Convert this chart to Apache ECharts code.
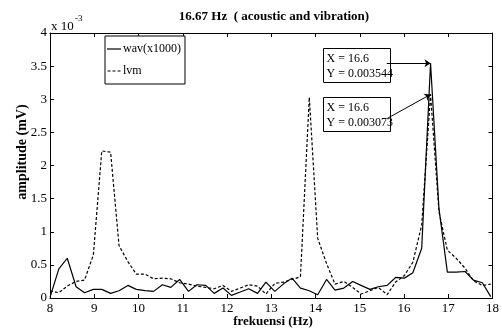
<!DOCTYPE html>
<html>
<head>
<meta charset="utf-8">
<script src="https://cdn.jsdelivr.net/npm/echarts@6/dist/echarts.min.js"></script>
<style>
html, body { margin: 0; padding: 0; background: #fff; }
#main { width: 502px; height: 329px; }
</style>
</head>
<body>
<div id="main"></div>
<script>
// frequency bins (Hz)
var freq = [
  8.00, 8.20, 8.39, 8.59, 8.78, 8.98, 9.17, 9.37, 9.56, 9.76,
  9.95, 10.15, 10.34, 10.54, 10.73, 10.93, 11.13, 11.32, 11.52, 11.71,
  11.91, 12.10, 12.30, 12.49, 12.69, 12.88, 13.08, 13.27, 13.47, 13.66,
  13.86, 14.05, 14.25, 14.44, 14.64, 14.84, 15.03, 15.23, 15.42, 15.62,
  15.81, 16.01, 16.20, 16.40, 16.60, 16.79, 16.98, 17.18, 17.38, 17.57,
  17.77, 17.96
];
// amplitude, x 10^-3 mV
var wav = [
  0.01, 0.44, 0.60, 0.17, 0.08, 0.13, 0.13, 0.07, 0.11, 0.19,
  0.13, 0.11, 0.10, 0.20, 0.16, 0.28, 0.10, 0.20, 0.19, 0.07,
  0.15, 0.04, 0.09, 0.14, 0.07, 0.24, 0.10, 0.21, 0.30, 0.15,
  0.11, 0.05, 0.28, 0.12, 0.15, 0.25, 0.19, 0.13, 0.17, 0.19,
  0.31, 0.30, 0.38, 0.75, 3.544, 1.35, 0.39, 0.39, 0.40, 0.27,
  0.23, 0.02
];
var lvm = [
  0.11, 0.08, 0.18, 0.25, 0.27, 0.65, 2.22, 2.20, 0.79, 0.55,
  0.36, 0.36, 0.29, 0.30, 0.29, 0.23, 0.21, 0.18, 0.16, 0.14,
  0.19, 0.10, 0.15, 0.20, 0.18, 0.06, 0.22, 0.24, 0.28, 0.32,
  3.03, 0.90, 0.52, 0.21, 0.25, 0.16, 0.06, 0.11, 0.16, 0.05,
  0.24, 0.34, 0.54, 1.10, 3.073, 1.30, 0.72, 0.60, 0.45, 0.26,
  0.19, 0.21
];
var seriesNames = ['wav(x1000)', 'lvm'];
// data tips: [x, y, label line 1, label line 2]
var tipWav = [16.6, 3.544, 'X = 16.6', 'Y = 0.003544'];
var tipLvm = [16.6, 3.073, 'X = 16.6', 'Y = 0.003073'];

var serif = 'Liberation Serif';
var chart = echarts.init(document.getElementById('main'));

function pairs(ys) {
  return freq.map(function (f, i) { return [f, ys[i]]; });
}

function xAx(pos, showLabel) {
  return {
    type: 'value', position: pos, min: 8, max: 18, interval: 1,
    axisLine: { show: true, onZero: false, lineStyle: { color: '#000', width: 1 } },
    axisTick: { show: true, inside: true, length: 4, lineStyle: { color: '#000' } },
    axisLabel: { show: showLabel, color: '#000', fontFamily: serif, fontSize: 13, margin: 4 },
    splitLine: { show: false }
  };
}
function yAx(pos, showLabel) {
  return {
    type: 'value', position: pos, min: 0, max: 4, interval: 0.5,
    axisLine: { show: true, onZero: false, lineStyle: { color: '#000', width: 1 } },
    axisTick: { show: true, inside: true, length: 4, lineStyle: { color: '#000' } },
    axisLabel: { show: showLabel, color: '#000', fontFamily: serif, fontSize: 13, margin: 3 },
    splitLine: { show: false }
  };
}

function tipBox(y, t) {
  return {
    type: 'group', left: 323, top: y,
    children: [
      { type: 'rect', shape: { x: 0, y: 0, width: 67, height: 34 },
        style: { fill: '#fff', stroke: '#000', lineWidth: 1 } },
      { type: 'text', x: 3, y: 10, style: { text: t[2], fill: '#000', fontFamily: serif, fontSize: 12, verticalAlign: 'middle', textVerticalAlign: 'middle' } },
      { type: 'text', x: 3, y: 25, style: { text: t[3], fill: '#000', fontFamily: serif, fontSize: 12, verticalAlign: 'middle', textVerticalAlign: 'middle' } }
    ]
  };
}

chart.setOption({
  animation: false,
  grid: { left: 50, right: 5, top: 33, bottom: 31 },
  legend: {
    orient: 'vertical', left: 105, top: 36,
    data: [
      { name: seriesNames[0], icon: 'path://M0,0H14V1.2H0Z' },
      { name: seriesNames[1], icon: 'path://M0,0H3V1.2H0Z M5,0H8V1.2H5Z M10,0H13V1.2H10Z' }
    ],
    itemWidth: 14, itemHeight: 1.2, itemGap: 8,
    padding: [6, 4, 6, 2],
    borderColor: '#000', borderWidth: 1, backgroundColor: '#fff',
    textStyle: { color: '#000', fontFamily: serif, fontSize: 12, lineHeight: 14, padding: [0, 0, 0, -3] }
  },
  xAxis: [xAx('bottom', true), xAx('top', false)],
  yAxis: [yAx('left', true), yAx('right', false)],
  graphic: [
    { type: 'text', x: 274, y: 17,
      style: { text: '16.67 Hz  ( acoustic and vibration)', fill: '#000', fontFamily: serif, fontWeight: 'bold', fontSize: 13,
        align: 'center', textAlign: 'center', verticalAlign: 'middle', textVerticalAlign: 'middle' } },
    { type: 'text', x: 51, y: 27,
      style: { text: 'x 10', fill: '#000', fontFamily: serif, fontSize: 13, verticalAlign: 'middle', textVerticalAlign: 'middle' } },
    { type: 'text', x: 75, y: 19,
      style: { text: '-3', fill: '#000', fontFamily: serif, fontSize: 9, verticalAlign: 'middle', textVerticalAlign: 'middle' } },
    { type: 'text', x: 22, y: 152, rotation: Math.PI / 2,
      style: { text: 'amplitude (mV)', fill: '#000', fontFamily: serif, fontWeight: 'bold', fontSize: 14,
        align: 'center', textAlign: 'center', verticalAlign: 'middle', textVerticalAlign: 'middle' } },
    { type: 'text', x: 273, y: 322,
      style: { text: 'frekuensi (Hz)', fill: '#000', fontFamily: serif, fontWeight: 'bold', fontSize: 13,
        align: 'center', textAlign: 'center', verticalAlign: 'middle', textVerticalAlign: 'middle' } },
    tipBox(48, tipWav),
    tipBox(97, tipLvm)
  ],
  series: [
    {
      name: seriesNames[0], type: 'line', data: pairs(wav),
      symbol: 'none', lineStyle: { color: '#000', width: 1.2 }, itemStyle: { color: '#000' },
      markLine: {
        silent: true, symbol: ['none', 'arrow'], symbolSize: 6,
        label: { show: false },
        lineStyle: { color: '#000', width: 1, type: 'solid' },
        data: [
          [{ coord: [15.61, 3.55] }, { coord: [tipWav[0], tipWav[1]] }],
          [{ coord: [15.62, 2.71] }, { coord: [tipLvm[0], tipLvm[1]] }]
        ]
      }
    },
    {
      name: seriesNames[1], type: 'line', data: pairs(lvm),
      symbol: 'none', lineStyle: { color: '#000', width: 1.2, type: [3, 2] }, itemStyle: { color: '#000' }
    }
  ]
});
</script>
</body>
</html>
